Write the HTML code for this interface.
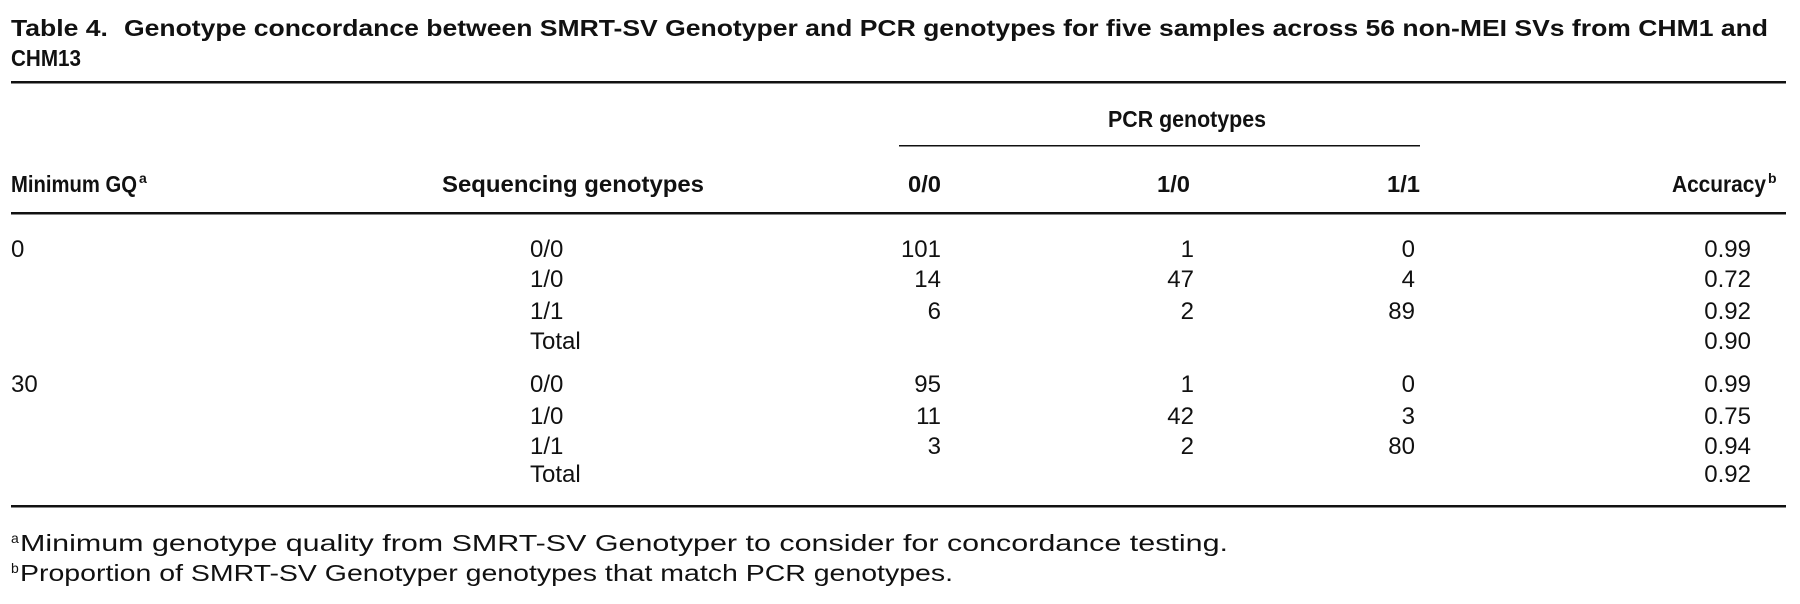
<!DOCTYPE html>
<html><head><meta charset="utf-8"><style>
html,body{margin:0;padding:0;background:#fff;}
svg{display:block}
text{font-family:"Liberation Sans",sans-serif;fill:#111;}
</style></head><body>
<svg width="1800" height="604" viewBox="0 0 1800 604" xmlns="http://www.w3.org/2000/svg">
<g font-size="23" font-weight="bold">
<text x="11" y="36" textLength="1757" lengthAdjust="spacingAndGlyphs">Table 4.<tspan dx="14">Genotype concordance between SMRT-SV Genotyper and PCR genotypes for five samples across 56 non-MEI SVs from CHM1 and</tspan></text>
<text x="11" y="66" textLength="70" lengthAdjust="spacingAndGlyphs">CHM13</text>
</g>
<rect x="11" y="81" width="1775" height="2.5" fill="#111"/>
<g font-size="23" font-weight="bold">
<text x="1187" y="127" text-anchor="middle" textLength="158" lengthAdjust="spacingAndGlyphs">PCR genotypes</text>
<text x="11" y="192" textLength="126" lengthAdjust="spacingAndGlyphs">Minimum GQ</text>
<text x="139" y="183" font-size="14">a</text>
<text x="442" y="192" textLength="262" lengthAdjust="spacingAndGlyphs">Sequencing genotypes</text>
<text x="941" y="192" text-anchor="end" textLength="33" lengthAdjust="spacingAndGlyphs">0/0</text>
<text x="1190" y="192" text-anchor="end" textLength="33" lengthAdjust="spacingAndGlyphs">1/0</text>
<text x="1420" y="192" text-anchor="end" textLength="33" lengthAdjust="spacingAndGlyphs">1/1</text>
<text x="1766" y="192" text-anchor="end" textLength="94" lengthAdjust="spacingAndGlyphs">Accuracy</text>
<text x="1768" y="183" font-size="14">b</text>
</g>
<rect x="899" y="145" width="521" height="1.5" fill="#111"/>
<rect x="11" y="212" width="1775" height="2.5" fill="#111"/>
<g font-size="24">
<text x="11" y="257">0</text>
<text x="11" y="392">30</text>
<g>
<text x="530" y="257">0/0</text><text x="530" y="287">1/0</text><text x="530" y="319">1/1</text><text x="530" y="349">Total</text>
<text x="530" y="392">0/0</text><text x="530" y="424">1/0</text><text x="530" y="454">1/1</text><text x="530" y="482">Total</text>
</g>
<g text-anchor="end">
<text x="941" y="257">101</text><text x="941" y="287">14</text><text x="941" y="319">6</text>
<text x="941" y="392">95</text><text x="941" y="424">11</text><text x="941" y="454">3</text>
<text x="1194" y="257">1</text><text x="1194" y="287">47</text><text x="1194" y="319">2</text>
<text x="1194" y="392">1</text><text x="1194" y="424">42</text><text x="1194" y="454">2</text>
<text x="1415" y="257">0</text><text x="1415" y="287">4</text><text x="1415" y="319">89</text>
<text x="1415" y="392">0</text><text x="1415" y="424">3</text><text x="1415" y="454">80</text>
<text x="1751" y="257">0.99</text><text x="1751" y="287">0.72</text><text x="1751" y="319">0.92</text><text x="1751" y="349">0.90</text>
<text x="1751" y="392">0.99</text><text x="1751" y="424">0.75</text><text x="1751" y="454">0.94</text><text x="1751" y="482">0.92</text>
</g>
</g>
<rect x="11" y="505" width="1775" height="2.5" fill="#111"/>
<g font-size="23">
<text x="11" y="543" font-size="14">a</text>
<text x="20" y="551" textLength="1208" lengthAdjust="spacingAndGlyphs">Minimum genotype quality from SMRT-SV Genotyper to consider for concordance testing.</text>
<text x="11" y="573" font-size="14">b</text>
<text x="20" y="581" textLength="933" lengthAdjust="spacingAndGlyphs">Proportion of SMRT-SV Genotyper genotypes that match PCR genotypes.</text>
</g>
</svg>
</body></html>
